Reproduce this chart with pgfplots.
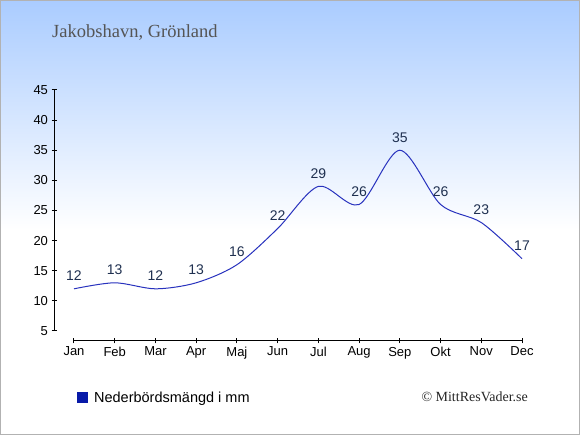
\documentclass[border=0pt]{standalone}
\usepackage{pgfplots}
\pgfplotsset{compat=1.18}
\usepackage{fontspec}
\setmainfont{Liberation Sans}
\newfontfamily\seriffont{Liberation Serif}
\definecolor{bgtop}{RGB}{170,204,255}
\definecolor{linecol}{RGB}{40,50,190}
\definecolor{labcol}{RGB}{31,48,80}
\definecolor{legcol}{RGB}{8,26,168}
\definecolor{titlecol}{RGB}{85,85,85}
\begin{document}
\begin{tikzpicture}
\useasboundingbox (0pt,0pt) rectangle (580pt,435pt);
\fill[white] (0pt,0pt) rectangle (580pt,435pt);
\shade[top color=bgtop, bottom color=white] (0pt,205pt) rectangle (580pt,435pt);
\draw[line width=1pt, color=black!30] (0.5pt,0.5pt) rectangle (579.5pt,434.5pt);
\node[anchor=base west, inner sep=0, text=titlecol, font=\seriffont\fontsize{18.5}{20}\selectfont] at (52pt,397pt) {Jakobshavn, Grönland};
\node[anchor=base east, inner sep=0, text=black!85, font=\seriffont\fontsize{14}{16}\selectfont] at (528pt,33pt) {© MittResVader.se};
\begin{axis}[
  at={(54pt,94pt)}, anchor=south west,
  scale only axis, width=468pt, height=251pt,
  xmin=-0.491, xmax=11, ymin=3.34, ymax=45,
  clip=false,
  axis line style={draw=none},
  xtick={0,...,11},
  xticklabels={Jan,Feb,Mar,Apr,Maj,Jun,Jul,Aug,Sep,Okt,Nov,Dec},
  ytick={5,10,...,45},
  xtick pos=bottom, ytick pos=left,
  tick align=center, major tick length=5pt,
  tick style={black, line width=1pt},
  ticklabel style={font=\fontsize{13}{15}\selectfont, text=black},
  /pgf/number format/assume math mode=true,
  nodes near coords,
  every node near coord/.append style={font=\fontsize{14}{16}\selectfont, text=labcol, anchor=center, yshift=13pt, inner sep=0},
  legend style={at={(0.049,-0.227)}, anchor=west, draw=none, fill=none, inner sep=0pt,
    font=\fontsize{14.5}{16}\selectfont, legend cell align=left},
  legend image code/.code={\fill[legcol] (0pt,-5pt) rectangle (10pt,5pt); \path (14pt,0pt);},
]
\draw[line width=1pt] (axis cs:0,3.34) -- (axis cs:11,3.34);
\draw[line width=1pt] (axis cs:-0.491,5) -- (axis cs:-0.491,45);
\addplot[color=linecol, line width=1pt, smooth, mark=none] coordinates {
(0,12) (1,13) (2,12) (3,13) (4,16) (5,22) (6,29) (7,26) (8,35) (9,26) (10,23) (11,17)};
\addlegendentry{Nederbördsmängd i mm}
\end{axis}
\end{tikzpicture}
\end{document}
